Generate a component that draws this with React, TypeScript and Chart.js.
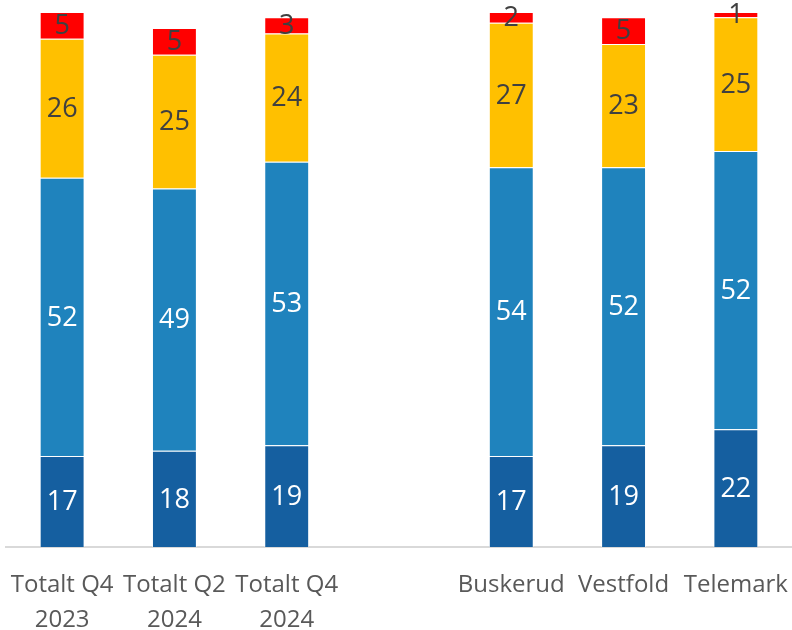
import React, { useEffect, useRef } from "react";
import { Chart, registerables } from "chart.js";

Chart.register(...registerables);

const categories: (string | string[])[] = [
  ["Totalt Q4", "2023"],
  ["Totalt Q2", "2024"],
  ["Totalt Q4", "2024"],
  "",
  "Buskerud",
  "Vestfold",
  "Telemark",
];

const seriesDark: (number | null)[] = [17, 18, 19, null, 17, 19, 22];
const seriesMid: (number | null)[] = [52, 49, 53, null, 54, 52, 52];
const seriesYellow: (number | null)[] = [26, 25, 24, null, 27, 23, 25];
const seriesRed: (number | null)[] = [5, 5, 3, null, 2, 5, 1];

const FONT = "'Open Sans', sans-serif";

const labelPlugin = {
  id: "segLabels",
  afterDatasetsDraw(chart: any) {
    const ctx = chart.ctx;
    ctx.save();
    ctx.font = `27px ${FONT}`;
    ctx.textAlign = "center";
    ctx.textBaseline = "middle";
    chart.data.datasets.forEach((ds: any, i: number) => {
      const meta = chart.getDatasetMeta(i);
      meta.data.forEach((el: any, j: number) => {
        const v = ds.data[j];
        if (v == null) return;
        const y = (el.y + el.base) / 2;
        ctx.fillStyle = ds.labelColor;
        ctx.fillText(String(v), el.x, y + 1);
      });
    });
    ctx.restore();
  },
};

export default function App() {
  const ref = useRef<HTMLCanvasElement | null>(null);
  useEffect(() => {
    document.body.style.margin = "0";
    const mk = (label: string, data: (number | null)[], color: string, labelColor: string) => ({
      label,
      data,
      backgroundColor: color,
      borderColor: "rgba(255,255,255,0.6)",
      borderWidth: 1,
      labelColor,
      barPercentage: 0.4,
      categoryPercentage: 1,
    });
    const chart = new Chart(ref.current as HTMLCanvasElement, {
      type: "bar",
      data: {
        labels: categories,
        datasets: [
          mk("A", seriesDark, "#155FA0", "#FFFFFF"),
          mk("B", seriesMid, "#1F83BD", "#FFFFFF"),
          mk("C", seriesYellow, "#FFC000", "#404040"),
          mk("D", seriesRed, "#FF0000", "#404040"),
        ] as any,
      },
      options: {
        animation: false,
        responsive: false,
        maintainAspectRatio: false,
        layout: { padding: { left: 6, right: 0, top: 12, bottom: 0 } },
        plugins: { legend: { display: false }, tooltip: { enabled: false } },
        scales: {
          x: {
            stacked: true,
            grid: { display: false },
            border: { color: "#D9D9D9", width: 2 },
            ticks: {
              color: "#595959",
              font: { family: FONT, size: 24, lineHeight: 1.44 },
              padding: 13,
              maxRotation: 0,
              autoSkip: false,
            },
            afterFit: (scale: any) => {
              scale.height = 83;
              scale.paddingLeft = 0;
              scale.paddingRight = 0;
            },
          },
          y: {
            stacked: true,
            display: false,
            min: 0,
            max: 100,
          },
        },
      },
      plugins: [labelPlugin],
    });
    return () => chart.destroy();
  }, []);
  return (
    <div style={{ width: 792, height: 630, overflow: "hidden" }}>
      <canvas ref={ref} width={792} height={630} />
    </div>
  );
}
